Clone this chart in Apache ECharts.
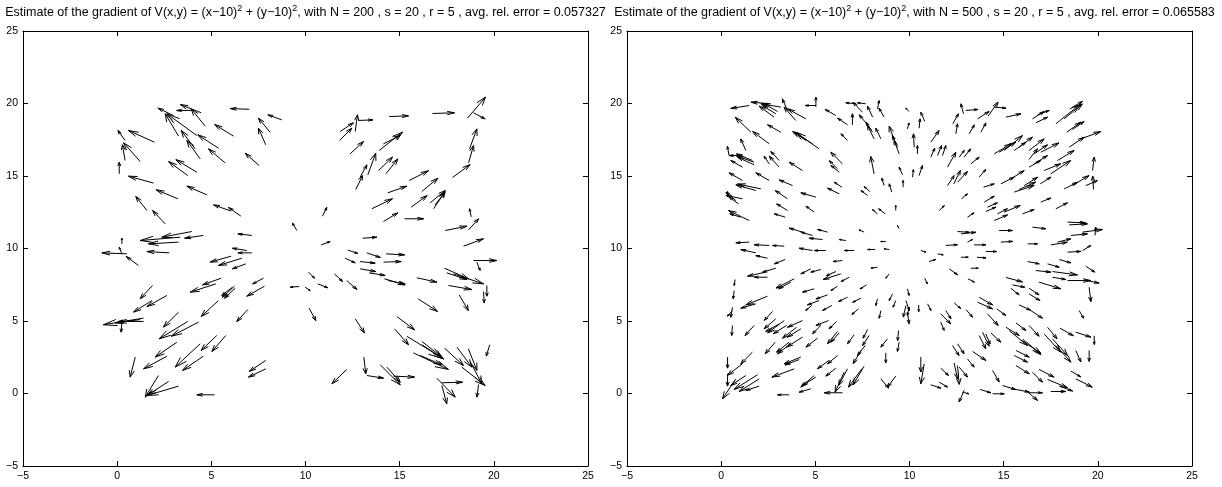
<!DOCTYPE html>
<html><head><meta charset="utf-8">
<script src="https://cdn.jsdelivr.net/npm/echarts@6/dist/echarts.min.js"></script>
<style>html,body{margin:0;padding:0;background:#fff}#c{width:1222px;height:487px}</style>
</head><body><div id="c"></div>
<script>
// ---- axis settings ----
const axisMin = -5, axisMax = 25, tickStep = 5;
// ---- title parameters ----
const panelN = [200, 500];
const panelS = [20, 20];
const panelR = [5, 5];
const panelErr = ['0.057327', '0.065583'];
// ---- arrows: [x, y, u, v] (tail position and vector, data units) ----
const arrowsN200 = [
[4.46,19.36,-1.11,0.57],[3.96,19.52,-0.8,0.0],[4.67,18.44,-0.74,1.19],[3.26,17.75,-0.71,1.54],[4.23,17.79,-1.59,1.5],
[2.99,19.17,-0.83,0.51],[5.38,16.92,-1.1,0.92],[4.41,16.18,-0.71,1.27],[4.14,16.87,-0.74,1.27],[5.73,15.91,-0.88,0.96],
[6.18,17.75,-1.01,0.8],[7.01,19.6,-1.0,0.05],[8.12,18.02,-0.62,0.97],[7.89,17.15,-0.39,1.15],[8.74,18.87,-0.74,0.35],
[7.54,15.72,-0.74,0.85],[1.98,17.33,-1.38,0.81],[1.22,16.0,-0.88,1.29],[0.42,16.07,-0.14,1.08],[0.42,17.45,-0.38,0.69],
[0.11,15.15,0,0.8],[4.23,15.26,-1.11,0.87],[3.75,15.03,-1.02,0.97],[1.93,14.51,-1.33,0.48],[3.22,13.43,-1.15,0.62],
[4.76,13.7,-1.06,0.6],[1.58,12.62,-0.59,0.97],[2.55,11.7,-0.67,0.92],[6.0,12.6,-0.88,0.41],[6.57,12.23,-0.66,0.6],
[9.54,11.24,-0.23,0.51],[3.96,11.17,-1.59,-0.39],[3.35,10.78,-2.13,-0.23],[4.58,10.9,-1.0,-0.19],[3.26,10.44,-1.6,-0.12],
[7.15,10.9,-0.74,0.11],[0.25,10.32,0,0.39],
[11.84,18.07,0.71,0.6],[11.81,17.45,0.65,0.85],[12.64,18.07,0.12,1.15],[12.81,18.83,0.77,0.04],[14.44,19.1,1.03,0.05],
[16.74,19.31,1.17,0.05],[18.6,18.99,0.96,1.45],[18.92,19.36,0.62,-0.42],[12.37,16.53,0.71,0.85],[13.91,16.76,1.24,1.26],
[14.14,17.22,0.89,0.57],[18.71,16.87,0.39,1.38],[18.66,15.91,0.26,1.19],[17.81,14.9,0.93,0.89],[12.67,14.07,0.36,0.96],
[12.9,14.92,0.36,0.85],[13.31,15.08,0.42,1.49],[13.88,15.38,0.74,0.92],[14.27,15.15,0.63,1.03],[15.5,14.69,1.03,0.67],
[16.18,13.93,0.85,0.92],[14.37,13.84,1.01,0.46],[16.62,13.15,0.8,0.85],[16.8,12.74,0.62,1.19],[16.88,13.01,0.5,0.83],
[13.52,12.74,1.1,0.69],[15.61,12.85,0.85,0.8],[10.9,12.23,0.23,0.6],[14.14,11.86,0.76,0.6],[15.26,12.05,1.01,0],
[17.42,11.24,1.15,0.3],[18.66,11.29,0.53,0.76],[18.8,12.18,-0.09,0.56],[13.03,10.71,0.76,0.07],[10.83,10.25,0.48,0.23],
[18.39,10.16,1.06,0.51],
[0.51,9.63,-1.32,0.07],[0.25,9.63,-0.14,0.46],[1.13,8.83,-0.65,0.62],[2.76,9.7,-1.18,0.09],[6.88,9.86,-0.76,0.16],
[7.15,9.7,-0.74,0],[6.05,9.47,-1.11,-0.41],[6.62,9.33,-1.24,-0.5],[6.83,8.94,-0.71,-0.34],[5.52,7.95,-0.99,-0.46],
[5.24,7.56,-1.36,-0.57],[7.77,7.95,-0.58,-0.39],[7.82,7.4,-0.94,-0.69],[6.23,7.4,-0.64,-0.76],[6.12,7.33,-0.57,-0.57],
[6.27,7.26,-0.57,-0.69],[1.88,7.45,-0.66,-0.92],[2.64,6.76,-1.06,-0.76],[1.84,6.41,-0.97,-0.8],[1.4,5.2,-2.13,-0.46],
[1.4,4.97,-1.33,0],[0.25,4.97,-0.04,-0.74],[1.22,5.1,-1.33,-0.23],[5.38,6.41,-0.92,-1.1],[6.94,5.79,-0.59,-0.83],
[3.26,5.61,-0.8,-1.03],[3.75,4.97,-1.52,-1.2],[4.32,4.92,-1.45,-0.97],[3.17,3.54,-1.15,-1.03],[2.64,2.57,-1.24,-0.87],
[4.41,3.43,-1.33,-1.61],[5.29,4.0,-0.83,-1.03],[5.77,4.0,-0.74,-1.1],[4.57,2.57,-1.1,-0.98],[0.96,2.51,-0.27,-1.38],
[2.19,1.24,-0.7,-1.49],[2.73,0.83,-1.15,-0.97],[3.26,0.51,-1.68,-0.65],[7.89,2.28,-0.88,-0.76],[7.89,1.7,-0.92,-0.57],
[5.17,-0.09,-0.94,0],[9.66,7.38,-0.47,-0.05],
[12.25,9.89,0.53,-0.23],[13.26,9.7,0.71,-0.32],[14.28,9.63,0.98,-0.07],[12.1,9.33,0.54,-0.32],[12.9,9.1,0.8,-0.11],
[14.14,9.06,0.94,0.04],[12.9,8.6,0.83,-0.19],[13.38,8.32,0.85,-0.18],[14.19,7.91,1.1,-0.42],[14.37,7.79,0.92,-0.23],
[10.16,8.37,0.32,-0.42],[11.54,8.25,0.43,-0.53],[12.19,7.79,0.54,-0.62],[10.65,7.56,0.54,-0.27],[9.98,7.33,0.27,-0.23],
[15.91,7.98,1.06,-0.3],[17.38,8.64,1.27,-0.73],[17.5,8.32,1.07,-0.46],[17.86,8.25,1.59,-0.69],[18.92,9.17,1.24,0],
[19.1,9.06,0.17,-0.58],[17.59,7.45,1.24,-0.28],[19.63,7.45,0,-0.74],[19.45,7.03,0.04,-0.78],[18.16,6.8,0.49,-1.08],
[15.98,6.53,1.03,-0.87],[10.19,5.89,0.36,-0.86],[12.64,5.15,0.49,-0.97],[14.85,5.31,0.94,-0.92],[14.73,4.46,0.74,-1.1],
[15.38,3.95,1.95,-1.56],[16.18,3.59,1.06,-1.08],[16.18,3.36,1.15,-0.97],[15.73,2.8,1.86,-1.14],[16.09,2.62,1.15,-0.64],
[17.38,3.13,1.01,-1.2],[18.04,3.2,0.79,-1.38],[18.65,3.08,0.45,-1.49],[18.3,1.82,1.24,-1.27],[18.74,2.21,0.62,-1.54],
[19.19,0.62,-0.09,-0.87],[19.78,3.36,-0.18,-0.78],[13.1,2.51,0.1,-1.15],[13.26,1.24,0.88,-0.18],[13.97,1.98,1.06,-1.38],
[14.32,1.82,0.71,-1.04],[14.67,1.2,1.12,-0.07],[12.19,1.66,-0.79,-0.99],[16.97,1.06,0.98,-1.31],[17.24,0.74,1.1,0.04],
[17.24,0.55,0.26,-1.26]
];
const arrowsN500 = [
[1.49,19.86,-0.98,-0.2],[2.64,19.98,-1.06,0.11],[3.17,19.75,-1.06,0.23],[2.99,19.45,-0.71,0.53],[2.9,19.29,-0.71,0.57],
[2.81,19.06,-0.79,0.76],[3.96,18.83,-0.62,0.92],[4.5,18.94,-0.97,0.69],[3.52,19.52,-0.27,0.8],[5.03,19.75,0,0.69],
[5.03,19.86,-0.57,0],[6.09,19.17,-0.57,0.42],[6.71,18.53,-0.53,0.46],[6.97,18.53,0,0.76],[7.15,19.98,-0.53,0.07],
[7.68,19.98,-0.44,0.07],[7.5,19.4,-0.5,0.69],[8.3,19.63,0.09,0.57],[8.04,19.06,-0.27,0.76],[8.65,19.06,-0.27,0.62],
[7.77,18.53,-0.44,0.69],[8.12,17.56,-0.35,0.92],[1.58,18.02,-0.83,1.03],[3.17,18.02,-0.71,0.51],[2.55,17.22,-0.88,0.85],
[5.2,16.87,-1.24,1.15],[4.85,17.22,-1.06,0.85],[4.5,17.45,-0.62,0.57],[6.71,17.45,-0.35,0.46],[8.04,18.02,-0.35,0.69],
[8.48,17.56,-0.27,0.74],[9.27,17.22,-0.35,1.22],[9.36,16.99,-0.27,0.8],[9.45,16.53,-0.27,0.92],[1.31,16.76,-0.27,0.8],
[0.42,16.41,-0.09,0.64],[1.13,16.41,-0.71,0],[1.75,15.95,-0.97,0.46],[1.75,15.77,-0.88,0.53],[1.66,16.07,-0.85,0.46],
[1.13,15.61,-0.62,0.46],[2.55,15.84,-0.27,0.53],[3.08,15.61,-0.53,0.76],[3.08,16.07,-0.44,0.62],[4.32,15.38,-0.71,0.57],
[6.44,15.84,-0.62,0.8],[6.18,15.49,-0.44,0.57],[6.27,15.26,-0.44,0.46],[8.12,15.15,-0.18,1.2],[9.63,15.08,-0.18,0.53],
[8.65,14.34,-0.12,0.51],[9.06,13.89,-0.14,0.57],[9.66,14.23,0,0.46],[1.13,14.69,-0.71,0.53],[2.55,14.69,-0.71,0.53],
[3.79,14.34,-0.71,0.39],[2.11,14.11,-1.24,0.34],[1.84,14.0,-1.06,0.39],[3.52,13.43,-0.65,0.57],[5.03,13.54,-0.8,0.3],
[6.27,13.77,-0.62,0.39],[6.41,14.23,-0.41,0.34],[7.77,13.66,-0.35,0.34],[7.89,13.93,-0.3,0.34],[1.13,13.43,-0.88,0.23],
[0.92,13.08,-0.5,0.46],[0.78,13.31,-0.53,0.57],[0.34,13.54,0,0.39],[3.52,12.62,-0.58,0.46],[4.94,12.51,-0.44,0.41],
[8.71,12.39,-0.35,0.35],[8.3,12.39,-0.27,0.3],[9.27,12.62,0,0.35],[1.49,11.93,-1.1,0.69],[1.04,12.16,-0.58,0.23],
[3.4,12.16,-0.58,0.23],[4.32,11.13,-0.71,0.28],[4.85,10.9,-0.62,0.23],[5.65,11.13,-0.53,0.18],[5.38,10.62,-0.71,0.09],
[7.59,11.13,-0.27,0.16],[6.62,10.55,-0.35,0.07],[1.49,10.44,-0.71,-0.05],[2.55,10.21,-0.8,0.05],[3.35,10.16,-0.62,0.05],
[9.45,11.36,-0.09,0.23],[8.74,10.48,-0.27,0],
[1.84,9.7,-0.8,0.23],[2.46,9.33,-0.62,0.18],[3.4,9.24,-0.58,-0.3],[4.85,9.86,-0.71,0.16],[5.56,9.86,-0.62,0],
[7.06,9.86,-0.53,0],[8.18,9.93,-0.41,0],[8.92,9.93,-0.27,0.05],[6.44,9.17,-0.5,-0.07],[8.3,8.71,-0.35,-0.07],
[8.92,8.25,-0.18,-0.3],[2.9,8.64,-0.71,-0.28],[2.37,8.37,-0.97,-0.28],[2.46,8.02,-0.71,0],[4.76,8.6,-0.53,-0.35],
[5.29,8.55,-0.53,-0.18],[6.09,8.41,-0.5,-0.28],[6.35,8.25,-0.94,-0.39],[6.8,8.02,-0.44,-0.3],[0.74,7.86,-0.05,-0.41],
[3.88,7.91,-0.97,-0.64],[3.7,7.68,-0.65,-0.46],[4.94,7.22,-0.62,-0.23],[6.18,7.4,-0.35,-0.3],[7.72,7.49,-0.35,-0.28],
[0.69,7.1,-0.05,-0.57],[2.46,6.71,-1.15,-0.6],[1.84,6.18,-0.8,-0.3],[5.65,6.8,-0.62,-0.28],[5.2,6.41,-0.62,-0.3],
[4.81,6.07,-0.32,-0.34],[5.88,6.07,-0.5,-0.34],[6.71,6.64,-0.48,-0.3],[7.42,6.57,-0.44,-0.28],[7.29,5.84,-0.35,-0.39],
[8.3,6.53,-0.09,-0.46],[8.48,5.72,-0.09,-0.53],[9.1,6.87,-0.18,-0.46],[9.27,6.41,-0.14,-0.46],[9.81,6.07,-0.14,-0.8],
[0.6,5.95,-0.09,-0.69],[0.6,5.72,-0.27,-0.39],[2.73,5.66,-0.44,-0.62],[1.75,4.69,-0.48,-0.69],[2.9,5.15,-0.62,-0.69],
[3.35,5.03,-0.88,-0.85],[3.08,4.8,-0.71,-0.53],[3.47,4.69,-0.71,-0.57],[4.32,5.03,-0.8,-0.46],[4.0,4.57,-0.74,-0.76],
[4.23,4.46,-0.71,-0.57],[5.7,5.03,-0.67,-0.34],[5.29,4.69,-0.44,-0.57],[6.12,4.97,-0.39,-0.51],[0.6,4.69,-0.04,-0.69],
[6.18,4.28,-0.53,-0.85],[6.27,4.18,-0.44,-0.64],[5.12,3.82,-0.62,-0.62],[4.32,3.89,-0.85,-0.69],[2.87,3.54,-0.53,-0.8],
[3.61,3.54,-0.67,-0.69],[3.7,3.43,-0.71,-0.69],[7.06,4.05,-0.35,-0.62],[7.77,4.41,-0.23,-0.6],[7.86,4.0,-0.35,-0.69],
[8.83,3.77,-0.35,-0.57],[9.42,4.34,-0.05,-0.69],[9.45,3.54,-0.09,-0.64],[1.66,2.85,-0.62,-0.8],[7.42,2.97,-0.41,-0.92],
[7.65,3.31,-0.41,-0.69],[4.23,2.51,-0.88,-0.46],[4.14,2.34,-0.74,-0.37],[6.18,2.62,-0.53,-0.57],[5.73,2.28,-0.62,-0.57],
[6.09,1.75,-0.53,-0.55],[3.88,1.7,-1.19,-0.57],[0.34,2.51,0,-0.76],[1.13,2.05,-0.8,-0.8],[8.74,2.8,0,-0.69],
[6.71,1.7,-0.48,-1.15],[6.53,1.47,-0.48,-1.38],[7.59,1.89,-0.58,-1.29],[7.47,1.7,-0.71,-1.26],[4.94,1.24,-0.71,-0.8],
[5.03,1.13,-0.71,-0.57],[0.34,1.36,0,-0.85],[1.31,1.24,-0.8,-0.69],[1.93,1.29,-1.24,-1.01],[2.02,1.01,-1.06,-0.87],
[2.02,0.51,-0.71,-0.3],[0.78,1.01,-0.71,-1.38],[3.61,-0.09,-0.62,0],[4.76,0.32,-0.62,-0.23],[6.44,0.05,-0.97,0],
[8.48,1.01,0.41,-0.64],[9.27,1.2,-0.44,-0.76],
[9.98,19.45,-0.18,0.23],[10.51,18.3,0.05,0.64],[10.81,18.76,-0.21,0.64],[9.89,18.25,0.09,0.41],[12.87,19.29,-0.14,0.69],
[12.99,19.52,0.65,0.07],[12.3,18.6,0.3,0.69],[13.61,18.94,0.62,0.51],[14.17,19.13,0.53,0.97],[14.5,19.75,0.62,-0.07],
[15.12,19.06,0.8,0.23],[16.53,18.94,0.62,0.51],[16.71,18.67,0.62,0.39],[16.8,19.22,0.62,0.3],[17.77,18.6,1.3,1.35],
[18.21,18.94,0.97,1.03],[18.65,19.75,0.53,0.39],[18.35,18.02,0.74,0.69],[18.65,18.21,0.62,0.55],[10.25,16.99,-0.04,0.92],
[10.42,16.53,0,0.57],[11.13,17.33,0.44,0.8],[12.46,17.91,0.09,0.69],[13.17,17.91,0.27,0.62],[13.79,18.02,0.27,0.64],
[14.5,16.53,0.88,0.69],[14.76,16.64,0.88,0.69],[15.03,16.76,0.97,1.03],[15.56,16.76,0.62,0.57],[15.82,16.99,0.71,0.69],
[16.35,16.76,0.8,0.8],[16.35,16.14,0.44,0.74],[16.62,16.53,0.71,0.62],[16.97,16.64,0.97,0.64],[18.48,16.99,0.8,0.69],
[19.1,17.56,1.06,0.51],[11.13,16.3,0.21,0.62],[11.49,16.41,0.21,0.69],[11.75,16.41,0.18,0.69],[12.02,15.61,0.44,1.03],
[12.64,16.3,0.27,0.46],[12.9,16.3,0.35,0.57],[13.26,15.84,0.44,0.46],[10.16,14.92,0.05,0.53],[10.51,15.03,0.18,0.69],
[12.02,14.34,0.35,0.69],[12.35,14.46,0.35,0.92],[12.55,14.57,0.53,0.74],[13.7,14.92,0.35,0.53],[16.35,15.61,0.62,0.46],
[16.62,15.84,0.71,0.57],[17.5,15.15,1.06,0.92],[17.15,15.38,0.88,0.46],[17.86,16.07,0.88,0.69],[19.72,15.38,0.09,0.92],
[13.93,14.23,0.57,0.23],[14.85,14.46,0.71,0.46],[15.38,14.8,0.71,0.57],[15.56,13.89,1.06,0.46],[15.82,14.07,0.88,0.51],
[16.09,14.34,0.71,0.57],[16.94,14.46,0.57,0.46],[18.21,14.11,0.71,0.46],[18.65,14.34,0.88,0.69],[19.36,14.34,0.62,0.34],
[19.77,14.07,-0.04,0.92],[12.76,13.43,0.32,0.34],[13.97,13.2,0.53,0.41],[11.58,12.62,0.27,0.34],[14.14,12.85,0.53,0.3],
[14.05,12.55,0.53,0.3],[14.67,12.39,0.53,0.35],[15.03,12.51,0.85,0.46],[14.5,11.93,0.71,0.39],[16.0,12.39,0.62,0.3],
[13.08,12.16,0.35,0.3],[16.97,13.2,0.53,0.28],[17.77,12.74,0.62,0.41],[18.39,11.82,0.97,-0.05],[18.48,11.63,0.97,0.07],
[12.55,11.17,0.62,-0.05],[12.73,11.01,0.8,0.11],[14.76,11.24,0.71,0],[16.53,11.47,0.71,-0.11],[13.43,10.25,0.62,0],
[11.93,10.21,0.62,0.05],[14.85,10.44,0.62,0.05],[16.27,10.32,0.53,0],[17.5,10.25,0.88,0.18],[17.86,10.44,0.71,0.23],
[18.57,10.9,0.88,0.11],[19.19,11.13,1.06,0.18],[19.85,10.9,0.04,0.57],[13.08,10.44,0.27,0.18],
[10.6,9.86,0.27,-0.11],[11.49,9.63,0.3,-0.07],[11.04,9.1,0.35,0.14],[14.05,9.79,0.58,0],[12.73,9.4,0.39,0],
[13.58,9.4,0.48,-0.05],[12.11,8.6,0.44,-0.41],[13.26,8.64,0.39,0],[13.1,7.91,0.35,-0.23],[10.81,7.95,0.14,-0.39],
[16.27,9.1,0.62,-0.16],[17.33,8.94,0.62,-0.23],[17.95,9.24,0.62,-0.23],[18.39,9.75,0.71,0.05],[19.19,9.86,0.44,0.35],
[16.71,8.48,0.8,-0.11],[17.59,8.41,1.33,-0.23],[18.39,7.79,1.24,0],[19.27,7.84,0.8,-0.23],[19.36,8.78,0.48,-0.41],
[15.12,8.0,0.88,-0.3],[15.47,7.49,0.65,-0.16],[16.88,7.68,1.15,-0.46],[17.59,8.02,0.71,-0.16],[15.38,7.26,0.44,-0.46],
[16.35,7.26,0.53,-0.46],[16.35,6.87,0.58,-0.46],[19.54,7.33,0.09,-1.0],[9.89,7.22,0.09,-0.46],[9.81,6.41,0.18,-0.69],
[9.98,5.95,-0.09,-0.57],[9.89,5.61,0.09,-0.8],[10.49,6.11,0,-0.46],[10.96,6.18,0.18,-0.46],[12.37,6.25,0.35,-0.39],
[13.7,6.64,0.71,-0.53],[13.61,6.3,0.8,-0.46],[15.82,6.11,0.62,-0.37],[16.44,5.72,0.62,-0.53],[14.63,5.84,0.48,-0.46],
[13.0,5.79,0.35,-0.53],[11.66,5.49,0.53,-0.69],[11.93,5.72,0.27,-0.57],[11.66,4.92,0.18,-0.57],[14.14,5.49,0.57,-0.8],
[17.99,4.51,0.71,-0.53],[19.01,5.72,0.23,-0.53],[18.83,4.23,0.8,-0.34],[19.81,3.98,0,-0.6],[13.88,4.23,0.35,-0.97],
[13.7,4.0,0.35,-0.92],[14.05,4.11,0.23,-0.69],[14.32,4.18,0.53,-0.64],[15.12,4.57,0.71,-0.57],[15.65,4.87,0.53,-0.53],
[16.35,4.69,0.53,-0.74],[17.33,4.57,0.5,-0.8],[15.29,4.34,0.97,-1.03],[15.91,3.7,1.06,-0.92],[16.18,3.59,0.8,-0.92],
[17.15,4.11,0.88,-1.26],[17.59,3.77,0.8,-1.15],[17.77,3.31,0.8,-1.15],[18.83,2.97,0.27,-0.8],[19.54,2.97,0,-0.76],
[12.28,3.31,0.35,-0.69],[12.55,3.43,0.35,-0.69],[13.35,2.9,0.71,-0.62],[13.08,2.39,0.35,-0.57],[15.65,2.97,0.71,-0.46],
[15.56,2.62,0.71,-0.46],[10.78,2.05,-0.18,-1.38],[10.6,2.51,0,-1.03],[12.37,2.11,0.18,-1.1],[12.55,1.93,0.09,-1.3],
[12.64,1.82,0.44,-0.69],[11.66,1.75,0.41,-0.51],[14.41,1.59,0.35,-0.8],[15.65,1.93,0.71,-0.57],[16.53,1.47,0.53,-0.69],
[16.88,1.66,0.8,-0.53],[17.33,0.97,1.06,-0.57],[17.95,0.51,0.71,-0.34],[18.57,1.54,0.53,-0.39],[18.83,1.01,0.88,-0.57],
[11.13,0.6,0.53,-0.23],[11.58,0.78,0.44,-0.34],[12.9,0.21,-0.27,-0.8],[12.81,0.09,0.35,-0.11],[13.75,0.28,0.57,-0.23],
[14.41,-0.02,0.62,0],[14.94,0.55,0.71,-0.28],[15.65,0.28,0.71,-0.18],[16.18,0.21,0.62,-0.69],[16.35,0.05,0.71,0],
[17.5,0.14,0.8,0]
];

const FONT = "'Liberation Sans', Arial, Helvetica, sans-serif";
const grids = [
  {left: 23, top: 31, width: 565, height: 435},
  {left: 627, top: 31, width: 565, height: 435}
];
const titleCenters = [305.5, 914.5];
const fmt = v => String(v).replace('-', '\u2212');

function axisBase(gi, pos, showLabel) {
  return {
    type: 'value', gridIndex: gi, position: pos,
    min: axisMin, max: axisMax, interval: tickStep,
    axisLine: {show: true, onZero: false, lineStyle: {color: '#000', width: 1}},
    axisTick: {show: true, inside: true, length: 5, lineStyle: {color: '#000', width: 1}},
    splitLine: {show: false},
    axisLabel: {show: showLabel, color: '#000', fontSize: 10.5, fontFamily: FONT, margin: 5, formatter: fmt}
  };
}

function renderArrow(params, api) {
  const x = api.value(0), y = api.value(1), u = api.value(2), v = api.value(3);
  const a = 0.33, b = 0.3;
  const tail = api.coord([x, y]);
  const tip = api.coord([x + u, y + v]);
  const h1 = api.coord([x + u - a * (u + b * v), y + v - a * (v - b * u)]);
  const h2 = api.coord([x + u - a * (u - b * v), y + v - a * (v + b * u)]);
  return {type: 'group', children: [
    {type: 'polyline', shape: {points: [tail, tip]}, style: {stroke: '#000', lineWidth: 1, fill: null}},
    {type: 'polyline', shape: {points: [h1, tip, h2]}, style: {stroke: '#000', lineWidth: 1, fill: null}}
  ]};
}

function titleText(i) {
  return '{a|Estimate of the gradient of V(x,y) = (x\u221210)}{s|2}{a| + (y\u221210)}{s|2}{a|, with N = ' +
    panelN[i] + ' , s = ' + panelS[i] + ' , r = ' + panelR[i] + ' , avg. rel. error = ' + panelErr[i] + '}';
}

const chart = echarts.init(document.getElementById('c'), null, {renderer: 'canvas'});
chart.setOption({
  animation: false,
  backgroundColor: '#fff',
  grid: grids,
  xAxis: [axisBase(0, 'bottom', true), axisBase(0, 'top', false), axisBase(1, 'bottom', true), axisBase(1, 'top', false)],
  yAxis: [axisBase(0, 'left', true), axisBase(0, 'right', false), axisBase(1, 'left', true), axisBase(1, 'right', false)],
  graphic: [0, 1].map(i => ({
    type: 'text', x: titleCenters[i], y: 13,
    style: {
      text: titleText(i), align: 'center', verticalAlign: 'middle',
      rich: {
        a: {fontSize: 12.5, fontFamily: FONT, fill: '#000', lineHeight: 17},
        s: {fontSize: 9, fontFamily: FONT, fill: '#000', lineHeight: 17, verticalAlign: 'top'}
      }
    }
  })),
  series: [
    {type: 'custom', xAxisIndex: 0, yAxisIndex: 0, clip: true, dimensions: ['x','y','u','v'],
     encode: {x: 0, y: 1}, renderItem: renderArrow, data: arrowsN200},
    {type: 'custom', xAxisIndex: 2, yAxisIndex: 2, clip: true, dimensions: ['x','y','u','v'],
     encode: {x: 0, y: 1}, renderItem: renderArrow, data: arrowsN500}
  ]
});
</script></body></html>
